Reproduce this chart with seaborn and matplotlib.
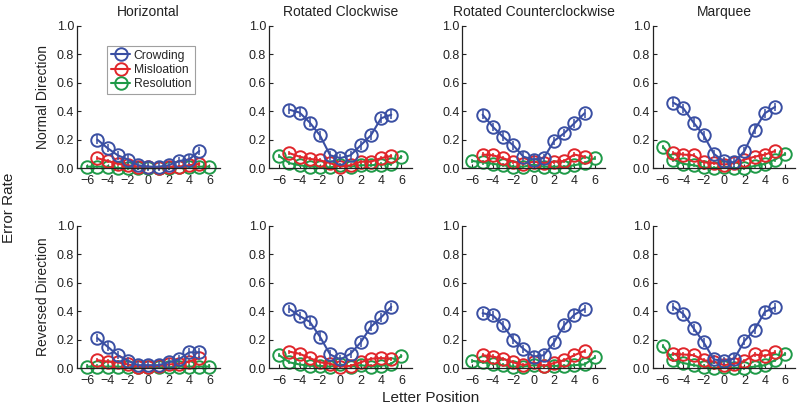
import numpy as np
import pandas as pd
import seaborn as sns
import matplotlib.pyplot as plt

# letter positions
pos_cm = list(range(-5, 6))    # crowding / misloation
pos_res = list(range(-6, 7))   # resolution

conditions = ["Horizontal", "Rotated Clockwise", "Rotated Counterclockwise", "Marquee"]
directions = ["Normal Direction", "Reversed Direction"]
series = ["Crowding", "Misloation", "Resolution"]
colors = {"Crowding": "#3a4fa3", "Misloation": "#e0262b", "Resolution": "#1f9a48"}

# ---- Normal direction ----
hor_n_crowd = [0.20, 0.14, 0.09, 0.06, 0.02, 0.01, 0.01, 0.02, 0.05, 0.06, 0.12]
hor_n_mis = [0.07, 0.05, 0.03, 0.02, 0.01, 0.01, 0.00, 0.01, 0.01, 0.02, 0.03]
hor_n_res = [0.01, 0.01, 0.01, 0.00, 0.00, 0.00, 0.00, 0.00, 0.00, 0.01, 0.01, 0.01, 0.01]

cw_n_crowd = [0.41, 0.39, 0.32, 0.23, 0.09, 0.07, 0.09, 0.16, 0.23, 0.35, 0.375]
cw_n_mis = [0.105, 0.08, 0.065, 0.055, 0.035, 0.01, 0.02, 0.045, 0.045, 0.07, 0.085]
cw_n_res = [0.085, 0.035, 0.02, 0.01, 0.01, 0.005, 0.02, 0.01, 0.02, 0.02, 0.025, 0.03, 0.08]

ccw_n_crowd = [0.375, 0.29, 0.22, 0.16, 0.08, 0.06, 0.07, 0.19, 0.245, 0.315, 0.385]
ccw_n_mis = [0.095, 0.09, 0.07, 0.045, 0.03, 0.045, 0.035, 0.045, 0.05, 0.095, 0.08]
ccw_n_res = [0.05, 0.04, 0.03, 0.02, 0.01, 0.01, 0.025, 0.01, 0.01, 0.01, 0.02, 0.035, 0.07]

mar_n_crowd = [0.46, 0.42, 0.32, 0.23, 0.10, 0.047, 0.04, 0.12, 0.27, 0.385, 0.43]
mar_n_mis = [0.105, 0.095, 0.09, 0.04, 0.035, 0.025, 0.035, 0.06, 0.08, 0.095, 0.12]
mar_n_res = [0.15, 0.06, 0.03, 0.02, 0.005, 0.0, 0.01, 0.0, 0.0, 0.015, 0.03, 0.06, 0.10]

# ---- Reversed direction ----
hor_r_crowd = [0.21, 0.15, 0.09, 0.05, 0.02, 0.02, 0.02, 0.04, 0.06, 0.11, 0.11]
hor_r_mis = [0.055, 0.045, 0.04, 0.025, 0.01, 0.01, 0.015, 0.025, 0.03, 0.045, 0.07]
hor_r_res = [0.01, 0.01, 0.01, 0.01, 0.005, 0.005, 0.005, 0.005, 0.005, 0.01, 0.01, 0.01, 0.01]

cw_r_crowd = [0.415, 0.365, 0.325, 0.22, 0.095, 0.06, 0.10, 0.18, 0.29, 0.355, 0.43]
cw_r_mis = [0.115, 0.10, 0.07, 0.04, 0.03, 0.01, 0.015, 0.04, 0.065, 0.07, 0.065]
cw_r_res = [0.09, 0.04, 0.025, 0.015, 0.015, 0.01, 0.025, 0.01, 0.02, 0.01, 0.015, 0.03, 0.085]

ccw_r_crowd = [0.385, 0.37, 0.30, 0.20, 0.135, 0.08, 0.09, 0.18, 0.30, 0.375, 0.415]
ccw_r_mis = [0.09, 0.08, 0.065, 0.04, 0.02, 0.04, 0.015, 0.035, 0.055, 0.09, 0.12]
ccw_r_res = [0.05, 0.04, 0.03, 0.02, 0.01, 0.01, 0.02, 0.015, 0.015, 0.015, 0.02, 0.025, 0.075]

mar_r_crowd = [0.43, 0.38, 0.28, 0.18, 0.06, 0.05, 0.065, 0.19, 0.27, 0.395, 0.425]
mar_r_mis = [0.10, 0.095, 0.09, 0.055, 0.045, 0.02, 0.03, 0.05, 0.095, 0.085, 0.11]
mar_r_res = [0.155, 0.055, 0.035, 0.02, 0.01, 0.0, 0.01, 0.0, 0.0, 0.01, 0.02, 0.055, 0.10]

err_crowd = 0.03
err_other = 0.015

panels = {
    ("Normal Direction", "Horizontal"): (hor_n_crowd, hor_n_mis, hor_n_res),
    ("Normal Direction", "Rotated Clockwise"): (cw_n_crowd, cw_n_mis, cw_n_res),
    ("Normal Direction", "Rotated Counterclockwise"): (ccw_n_crowd, ccw_n_mis, ccw_n_res),
    ("Normal Direction", "Marquee"): (mar_n_crowd, mar_n_mis, mar_n_res),
    ("Reversed Direction", "Horizontal"): (hor_r_crowd, hor_r_mis, hor_r_res),
    ("Reversed Direction", "Rotated Clockwise"): (cw_r_crowd, cw_r_mis, cw_r_res),
    ("Reversed Direction", "Rotated Counterclockwise"): (ccw_r_crowd, ccw_r_mis, ccw_r_res),
    ("Reversed Direction", "Marquee"): (mar_r_crowd, mar_r_mis, mar_r_res),
}

rows = []
for (d, c), (cr, mi, re) in panels.items():
    for x, y in zip(pos_cm, cr):
        rows.append((d, c, "Crowding", x, y))
    for x, y in zip(pos_cm, mi):
        rows.append((d, c, "Misloation", x, y))
    for x, y in zip(pos_res, re):
        rows.append((d, c, "Resolution", x, y))
df = pd.DataFrame(rows, columns=["direction", "condition", "series", "pos", "rate"])

sns.set_style("ticks")
plt.rcParams["font.family"] = ["Liberation Sans", "DejaVu Sans"]

fig = plt.figure(figsize=(7.97, 4.08), dpi=100)

lefts = [0.0966, 0.3375, 0.580, 0.819]
bottoms = [0.588, 0.098]
w, h = 0.179, 0.349

for r, d in enumerate(directions):
    for c, cond in enumerate(conditions):
        ax = fig.add_axes([lefts[c], bottoms[r], w, h])
        sub = df[(df.direction == d) & (df.condition == cond)]
        for s in ["Resolution", "Misloation", "Crowding"]:
            part = sub[sub.series == s]
            col = colors[s]
            sns.lineplot(data=part, x="pos", y="rate", ax=ax, color=col, lw=1.5,
                         marker="o", markersize=9, markerfacecolor="none",
                         markeredgecolor=col, markeredgewidth=1.4,
                         clip_on=False, label=s, legend=False)
            ax.errorbar(part["pos"], part["rate"],
                        yerr=err_crowd if s == "Crowding" else err_other,
                        fmt="none", ecolor=col, elinewidth=1.1, capsize=0, clip_on=False)
        ax.set_xlim(-7, 7)
        ax.set_ylim(0, 1.0)
        ax.set_xticks([-6, -4, -2, 0, 2, 4, 6])
        ax.set_yticks([0, 0.2, 0.4, 0.6, 0.8, 1.0])
        ax.set_yticklabels(["0.0", "0.2", "0.4", "0.6", "0.8", "1.0"])
        ax.tick_params(direction="in", length=3, labelsize=9, colors="#222222")
        ax.tick_params(axis="x", pad=5)
        ax.tick_params(axis="y", pad=2)
        ax.set_xlabel("")
        ax.set_ylabel("")
        sns.despine(ax=ax)
        for sp in ["left", "bottom"]:
            ax.spines[sp].set_color("#222222")
            ax.spines[sp].set_linewidth(0.9)
        if r == 0:
            ax.set_title(cond, fontsize=10, pad=7, color="#222222")
        if c == 0:
            ax.set_ylabel(d, fontsize=10, color="#222222", labelpad=5)
        if r == 0 and c == 0:
            handles, labels = ax.get_legend_handles_labels()
            order = [labels.index(s) for s in series]
            leg = ax.legend([handles[i] for i in order], series, loc="upper left",
                            bbox_to_anchor=(0.17, 0.9), fontsize=8.7, frameon=True,
                            fancybox=False, edgecolor="#888888", handlelength=1.6,
                            handletextpad=0.3, borderpad=0.3, labelspacing=0.2)
            leg.get_frame().set_linewidth(0.8)

fig.text(0.002, 0.49, "Error Rate", rotation=90, fontsize=11, va="center", ha="left", color="#222222")
fig.text(0.54, 0.025, "Letter Position", fontsize=11, ha="center", va="center", color="#222222")

fig.savefig("out.png", dpi=100)
